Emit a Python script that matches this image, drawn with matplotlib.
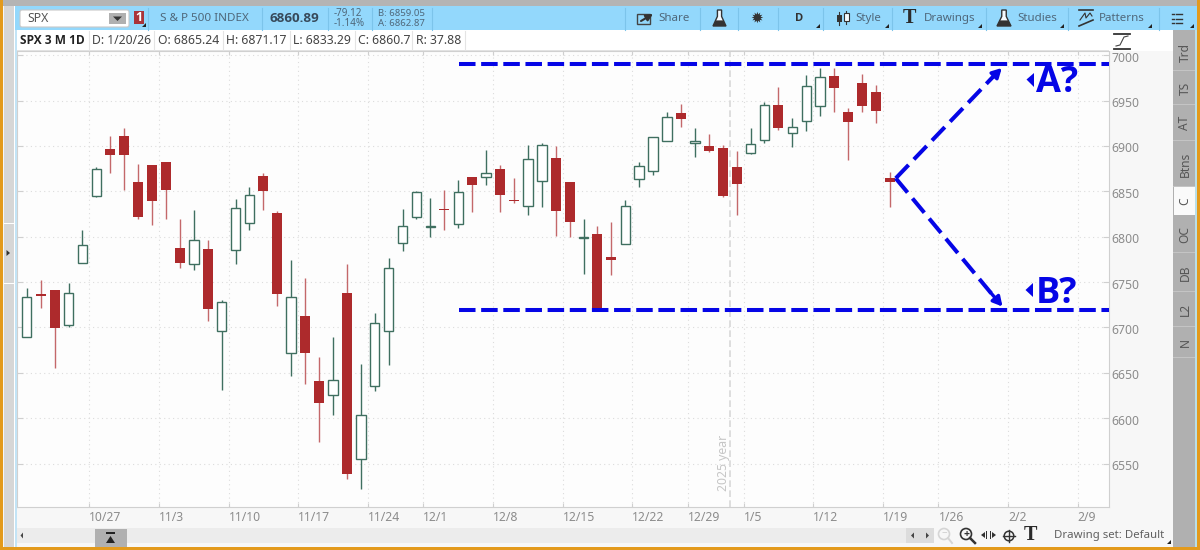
import matplotlib
matplotlib.use('Agg')
import matplotlib.pyplot as plt
from matplotlib.patches import Rectangle, Polygon, Circle, FancyBboxPatch
from matplotlib.transforms import ScaledTranslation

plt.rcParams['font.family'] = ['Noto Sans', 'DejaVu Sans']

opens = [6690, 6737, 6741, 6703, 6771, 6845, 6897, 6911, 6860, 6879, 6882, 6788, 6770, 6787, 6696, 6785,
         6815, 6867, 6826, 6672, 6713, 6641, 6626, 6738, 6555, 6636, 6696, 6793, 6822, 6811, 6831, 6814,
         6866, 6866, 6875, 6840, 6834, 6861, 6887, 6860, 6799, 6803, 6778, 6792, 6864, 6872, 6905, 6936,
         6903, 6900, 6898, 6877, 6892, 6907, 6945, 6914, 6927, 6944, 6977, 6937, 6969, 6960, 6865.24]
highs = [6744, 6752, 6741, 6749, 6807, 6877, 6911, 6920, 6880, 6879, 6882, 6820, 6829, 6796, 6730, 6842,
         6855, 6870, 6828, 6774, 6754, 6667, 6690, 6770, 6660, 6716, 6776, 6831, 6850, 6843, 6852, 6862,
         6866, 6896, 6879, 6865, 6901, 6903, 6900, 6860, 6819, 6812, 6816, 6840, 6882, 6910, 6937, 6946,
         6920, 6913, 6901, 6895, 6920, 6948, 6965, 6931, 6978, 6986, 6986, 6942, 6979, 6967, 6871.17]
lows = [6689, 6721, 6655, 6700, 6771, 6844, 6870, 6851, 6820, 6813, 6820, 6766, 6763, 6707, 6631, 6770,
        6807, 6829, 6724, 6647, 6638, 6574, 6603, 6533, 6522, 6630, 6659, 6784, 6820, 6800, 6807, 6810,
        6827, 6857, 6827, 6837, 6824, 6833, 6801, 6800, 6759, 6721, 6758, 6792, 6855, 6868, 6905, 6921,
        6888, 6893, 6844, 6824, 6891, 6903, 6918, 6899, 6917, 6933, 6938, 6885, 6938, 6925, 6833.29]
closes = [6734, 6735, 6699, 6738, 6791, 6875, 6890, 6890, 6822, 6839, 6852, 6771, 6796, 6720, 6728, 6832,
          6846, 6850, 6737, 6734, 6672, 6617, 6642, 6539, 6603, 6705, 6766, 6812, 6849, 6812, 6829, 6849,
          6857, 6870, 6846, 6839, 6886, 6901, 6828, 6816, 6800, 6721, 6774, 6834, 6878, 6910, 6932, 6930,
          6905, 6895, 6845, 6858, 6902, 6945, 6920, 6921, 6966, 6976, 6964, 6926, 6944, 6939, 6860.7]

tick_labels = ['10/27', '11/3', '11/10', '11/17', '11/24', '12/1', '12/8', '12/15', '12/22', '12/29',
               '1/5', '1/12', '1/19', '1/26', '2/2', '2/9']
tick_bars = [5, 10, 15, 20, 25, 29, 34, 39, 44, 48, 52, 57, 62, 66, 71, 76]
price_ticks = [6550, 6600, 6650, 6700, 6750, 6800, 6850, 6900, 6950, 7000]

level_a = 6990.7
level_b = 6718.9
level_start = 31.05
arrow_start = (62.43, 6864.4)
arrow_a = (70.05, 6986)
arrow_b = (70.1, 6723)
year_break = 50.5

header_cells = ['D: 1/20/26', 'O: 6865.24', 'H: 6871.17', 'L: 6833.29', 'C: 6860.7', 'R: 37.88']
header_x = [92, 158, 226, 293, 358, 416]
header_seps = [89, 154, 223, 290, 355, 412, 465]
side_tabs = ['Trd', 'TS', 'AT', 'Btns', 'C', 'OC', 'DB', 'L2', 'N']
side_edges = [33, 71, 105, 141, 187, 216, 253, 292, 327, 358]

RED = '#ad2a2c'
GREEN = '#3f6f60'
BLUE = '#0505e6'
ORANGE = '#e39a1c'
TOOLBAR = '#93d8fc'
TEXT_BLUE = '#4f677a'
GRAY = '#8c8c8c'
BOLD_FONT = 'Open Sans'

fig = plt.figure(figsize=(12, 5.5), dpi=100, facecolor='#f7f7f7')

ax = fig.add_axes([17 / 1200, 1 - 507 / 550, (1109 - 17) / 1200, (507 - 51) / 550], zorder=1)
ax.set_facecolor('#fdfdfd')
ax.set_xlim(-0.70, 77.75)
ax.set_ylim(6502.1, 7004.7)

for i in range(len(opens)):
    up = closes[i] >= opens[i]
    wick = GREEN if up else '#c4686a'
    ax.vlines(i, lows[i], highs[i], color=wick, lw=1.0, zorder=3)
    if up:
        ax.bar(i, closes[i] - opens[i], bottom=opens[i], width=0.68, facecolor='white',
               edgecolor=GREEN, linewidth=1.0, zorder=4)
    else:
        ax.bar(i, opens[i] - closes[i], bottom=closes[i], width=0.72, color=RED, zorder=4)

ax.set_yticks(price_ticks)
ax.set_xticks([b - 0.5 for b in tick_bars])
ax.set_xticklabels(tick_labels)
for label_ in ax.get_xticklabels():
    label_.set_ha('left')
ax.yaxis.tick_right()
ax.tick_params(axis='x', direction='in', length=3, width=0.8, color='#cfcfcf', labelcolor=GRAY,
               labelsize=8.8, pad=3, top=True)
ax.tick_params(axis='y', direction='in', length=4, width=0.8, color='#cfcfcf', labelcolor=GRAY,
               labelsize=8.8, pad=2, left=True, right=True)
for label_ in ax.get_yticklabels():
    label_.set_transform(label_.get_transform() + ScaledTranslation(0, -0.015, fig.dpi_scale_trans))
ax.grid(True, linestyle=(0, (1, 3)), color='#dcdcdc', linewidth=0.8, zorder=0)
ax.set_axisbelow(True)
for spine in ax.spines.values():
    spine.set_color('#d0d0d0')

ax.axvline(year_break, color='#d8d8d8', lw=1.2, linestyle=(0, (4, 2)), zorder=1)
ax.text(year_break - 0.42, 6520, '2025 year', rotation=90, color='#c6c6c6', fontsize=8.8,
        ha='center', va='bottom', zorder=2)

dash = (0, (4.1, 1.4))
ax.plot([level_start, 77.75], [level_a, level_a], color=BLUE, lw=2.9, linestyle=dash, zorder=6, dash_capstyle='butt')
ax.plot([level_start, 77.75], [level_b, level_b], color=BLUE, lw=2.9, linestyle=dash, zorder=6, dash_capstyle='butt')
for tip in [arrow_a, arrow_b]:
    ax.plot([arrow_start[0], tip[0] - 0.25], [arrow_start[1], tip[1] + (arrow_start[1] - tip[1]) * 0.03],
            color=BLUE, lw=2.9, linestyle=(0, (4.6, 1.9)), zorder=6, dash_capstyle='butt')
    ax.annotate('', xy=tip, xytext=(tip[0] - 0.9, tip[1] + (arrow_start[1] - tip[1]) * 0.115),
                arrowprops=dict(arrowstyle='-|>,head_length=0.55,head_width=0.3', color=BLUE, lw=2.4,
                                shrinkA=0, shrinkB=0), zorder=7)

# everything around the chart is drawn in pixel coordinates
ui = fig.add_axes([0, 0, 1, 1], zorder=2)
ui.set_xlim(0, 1200)
ui.set_ylim(550, 0)
ui.axis('off')
ui.patch.set_alpha(0)


def box(x0, y0, x1, y1, color, z=1):
    ui.add_patch(Rectangle((x0, y0), x1 - x0, y1 - y0, facecolor=color, edgecolor='none', zorder=z))


def label(x, y, s, size=8.8, color='#444444', weight='normal', ha='left', rotation=0, **kw):
    if weight == 'bold' and 'family' not in kw:
        kw['family'] = BOLD_FONT
    ui.text(x, y, s, fontsize=size, color=color, fontweight=weight, ha=ha, va='center',
            rotation=rotation, zorder=5, **kw)


def vline(x, y0, y1, color='#7cc4ea', lw=0.8):
    ui.plot([x, x], [y0, y1], color=color, lw=lw, zorder=3)


def corner(x, y):
    ui.add_patch(Polygon([[x, y + 3], [x + 4, y + 3], [x + 4, y - 1]], facecolor='#222222', zorder=4))


def flask(cx, top, w, h, color='#333333'):
    ui.add_patch(Polygon([[cx - w * 0.16, top], [cx + w * 0.16, top], [cx + w * 0.16, top + h * 0.4],
                          [cx + w / 2, top + h], [cx - w / 2, top + h], [cx - w * 0.16, top + h * 0.4]],
                         facecolor='#f5fbff', edgecolor=color, lw=1.0, zorder=4))
    ui.add_patch(Polygon([[cx - w * 0.3, top + h * 0.65], [cx + w * 0.3, top + h * 0.65],
                          [cx + w / 2, top + h], [cx - w / 2, top + h]], facecolor=color, zorder=5))


# window frame
box(0, 0, 1200, 6, '#b4b4b4')
box(0, 0, 3, 550, ORANGE, 4)
box(1197, 0, 1200, 550, ORANGE, 4)
box(0, 547, 1200, 550, ORANGE, 4)
box(4, 6, 14, 547, '#d6d6d6')
box(4, 223, 14, 224, 'white', 2)
box(4, 283, 14, 284, 'white', 2)
ui.add_patch(Polygon([[6.5, 250], [6.5, 256], [10, 253]], facecolor='#333333', zorder=3))
box(14, 6, 15, 547, 'white')
box(15, 6, 17, 547, '#c3e4f6')

# toolbar
box(15, 6, 1197, 30, TOOLBAR)
box(17, 30, 1173, 51, 'white')
ui.add_patch(FancyBboxPatch((20, 10), 109, 17, boxstyle='round,pad=0,rounding_size=2', facecolor='white',
                            edgecolor='#c8c8c8', lw=0.8, zorder=2))
box(109, 13, 126, 24, '#b0b0b0', 3)
ui.add_patch(Polygon([[113, 16.5], [122, 16.5], [117.5, 21]], facecolor='#333333', zorder=4))
label(27, 18.5, 'SPX', 8.8, '#555555')
box(134, 11, 143.5, 24, '#a9343a', 3)
label(138.8, 17.5, '1', 9, 'white', 'bold', ha='center')
corner(142, 24)
label(160, 18.5, 'S & P 500 INDEX', 8.4, TEXT_BLUE)
label(270, 18.5, '6860.89', 9.6, '#37495a', 'bold')
label(334, 14, '-79.12', 7.1, TEXT_BLUE)
label(334, 23.5, '-1.14%', 7.1, TEXT_BLUE)
label(378, 14, 'B: 6859.05', 6.9, TEXT_BLUE)
label(378, 23.5, 'A: 6862.87', 6.9, TEXT_BLUE)
for x in [148, 262, 328, 372, 432, 625, 700, 738, 778, 823, 892, 986, 1068, 1159]:
    vline(x, 8, 30)

ui.add_patch(Rectangle((637, 14), 13, 10, facecolor='none', edgecolor='#444444', lw=1.0, zorder=4))
ui.annotate('', xy=(653, 14), xytext=(641, 21), arrowprops=dict(arrowstyle='-|>', color='#333333', lw=1.5,
                                                               shrinkA=0, shrinkB=0), zorder=5)
label(658, 18.5, 'Share', 8.3, TEXT_BLUE)
flask(719.5, 10, 13, 16)
label(757, 18, '\u2739', 11, '#333333', ha='center', family='DejaVu Sans')
label(799.5, 18.5, 'D', 8, '#333333', 'bold', ha='center')
corner(816, 25)
ui.plot([839, 839], [12, 25], color='#333333', lw=0.8, zorder=4)
ui.plot([846, 846], [11, 24], color='#333333', lw=0.8, zorder=4)
box(836.5, 15, 841.5, 22, '#333333', 5)
ui.add_patch(Rectangle((843.5, 13), 5, 8, facecolor='#f5fbff', edgecolor='#333333', lw=0.8, zorder=5))
label(855, 18.5, 'Style', 8.3, TEXT_BLUE)
corner(885, 25)
label(909.5, 18, 'T', 14.5, '#2b2b2b', 'bold', ha='center', family='Liberation Serif')
label(924, 18.5, 'Drawings', 8.3, TEXT_BLUE)
corner(978, 25)
flask(1004, 10, 14, 16)
label(1017, 18.5, 'Studies', 8.3, TEXT_BLUE)
corner(1060, 25)
ui.plot([1079, 1093], [10, 10], color='#333333', lw=1.2, zorder=4)
ui.plot([1080, 1085, 1086, 1090, 1092], [20, 13, 18, 13, 16], color='#333333', lw=0.8, zorder=4)
ui.plot([1079, 1093], [26, 20], color='#333333', lw=1.2, zorder=4)
label(1099, 18.5, 'Patterns', 8.3, TEXT_BLUE)
corner(1148, 25)
for y in [14, 18.5, 23]:
    ui.plot([1172, 1174], [y, y], color='#333333', lw=1.0, zorder=4)
    ui.plot([1175.5, 1182], [y, y], color='#333333', lw=1.0, zorder=4)
corner(1190, 25)

# header row above the plot
label(20, 40.5, 'SPX 3 M 1D', 8.6, '#222222', 'bold')
for s, x in zip(header_cells, header_x):
    label(x, 40.5, s, 8.8, '#444444')
for x in header_seps:
    vline(x, 31, 50, '#e4e4e4')
box(17, 50, 1109, 51, '#e2e2e2')

# icon above the price scale
ui.plot([1114, 1130], [34, 34], color='#333333', lw=1.3, zorder=4)
ui.plot([1114, 1130], [49, 49], color='#333333', lw=1.3, zorder=4)
ui.plot([1116, 1120, 1122, 1124, 1128], [46, 45, 41, 37, 36], color='#444444', lw=0.8, zorder=4)

# side tabs
box(1173, 30, 1197, 547, '#b0b0b0')
for i, s in enumerate(side_tabs):
    y0, y1 = side_edges[i], side_edges[i + 1]
    if s == 'C':
        box(1174, y0, 1195, y1 - 1, '#fafafa', 2)
    else:
        box(1173, y1 - 1, 1197, y1, '#c4c4c4', 2)
    label(1185, y0 + (y1 - y0) * 0.5, s, 8.6, '#555555', ha='center', rotation=90)
box(1195, 30, 1197, 547, '#b9dfe8', 2)

# scrollbar and the small tools
box(17, 528, 906, 543, '#ececec')
ui.add_patch(Polygon([[20.5, 535.5], [23, 532.5], [23, 538.5]], facecolor='#444444', zorder=3))
box(95, 529, 127, 547, '#b0b0b0', 3)
box(106, 532, 115, 533.5, '#222222', 4)
ui.add_patch(Polygon([[106, 543], [115, 543], [110.5, 536]], facecolor='#222222', zorder=4))
box(906, 528, 934, 543, '#dcdcdc')
ui.add_patch(Polygon([[911, 535.5], [914, 532.5], [914, 538.5]], facecolor='#444444', zorder=3))
ui.add_patch(Polygon([[926, 532.5], [926, 538.5], [929, 535.5]], facecolor='#444444', zorder=3))
ui.add_patch(Circle((944, 534), 5.5, facecolor='none', edgecolor='#d5d5d5', lw=1.2, zorder=3))
ui.plot([948, 952], [538, 543], color='#d5d5d5', lw=1.4, zorder=3)
label(944, 534, '\u2212', 7, '#cccccc', ha='center')
ui.add_patch(Circle((966, 534), 5.5, facecolor='none', edgecolor='#333333', lw=1.2, zorder=3))
ui.plot([970, 975], [538, 543], color='#333333', lw=1.8, zorder=3)
label(966, 534, '+', 7.5, '#333333', ha='center', weight='bold')
ui.add_patch(Polygon([[981, 535], [985, 532], [985, 538]], facecolor='#333333', zorder=3))
ui.add_patch(Polygon([[996, 535], [992, 532], [992, 538]], facecolor='#333333', zorder=3))
box(986, 531, 987, 539, '#333333', 3)
box(989.5, 531, 990.5, 539, '#333333', 3)
ui.add_patch(Circle((1009, 536), 4.8, facecolor='none', edgecolor='#333333', lw=1.1, zorder=3))
ui.plot([1009, 1009], [530, 542], color='#333333', lw=1.0, zorder=3)
ui.plot([1003, 1015], [536, 536], color='#333333', lw=1.0, zorder=3)
label(1030.5, 535.5, 'T', 14.5, '#2b2b2b', 'bold', ha='center', family='Liberation Serif')
label(1053.5, 535.5, 'Drawing set: Default', 8.2, '#606060')
corner(1167, 541)

# the hand drawn labels
label(1036, 83, 'A?', 26, BLUE, 'bold')
label(1036, 294, 'B?', 26, BLUE, 'bold')
ui.add_patch(Polygon([[1026.5, 79.5], [1034, 73], [1034, 87]], facecolor=BLUE, zorder=6))
ui.add_patch(Polygon([[1025.5, 290], [1033, 283], [1033, 297]], facecolor=BLUE, zorder=6))

fig.savefig('out.png', dpi=100)
